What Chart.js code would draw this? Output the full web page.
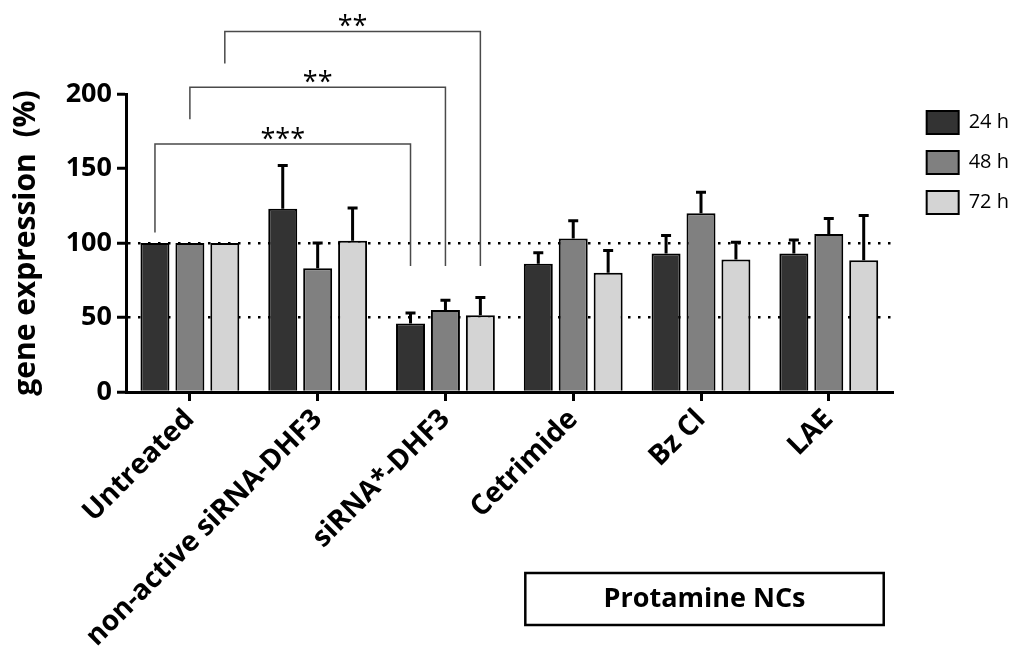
<!DOCTYPE html>
<html>
<head>
<meta charset="utf-8">
<script src="https://cdn.jsdelivr.net/npm/chart.js@4/dist/chart.umd.min.js"></script>
<style>
  html, body { margin: 0; padding: 0; background: #fff; }
  canvas { display: block; }
</style>
</head>
<body>
<canvas id="chart" width="1027" height="650"></canvas>
<script>
// Treatment groups on the x axis
const categories = ['Untreated', 'non-active siRNA-DHF3', 'siRNA*-DHF3', 'Cetrimide', 'Bz Cl', 'LAE'];

// Series: relative gene expression (%) by incubation time
const seriesNames = ['24 h', '48 h', '72 h'];
const h24 = [100, 123, 46, 86, 93, 93];
const h48 = [100, 83, 55, 103, 120, 106];
const h72 = [100, 101.5, 51.5, 80, 89, 88.5];

// Upper error bars (SD) for each series
const err24 = [0, 29, 7, 7.5, 12, 9];
const err48 = [0, 17, 6.5, 12, 14, 10.5];
const err72 = [0, 22, 12, 15, 11.5, 30];

// y-axis ticks and the dotted reference levels
const yTicks = [0, 50, 100, 150, 200];
const refLevels = [50, 100];

// Significance comparisons: [category, series] pairs, bracket top, feet, label
const sigLabels = ['***', '**', '**'];
const sigFrom = [[0, 0], [0, 1], [0, 2]];
const sigTo = [[2, 0], [2, 1], [2, 2]];
const sigTop = [166.5, 204.5, 242];
const sigFootLeft = [107, 183, 220.5];
const sigFootRight = [84.5, 84.5, 84.5];

const groupLabel = 'Protamine NCs';

const FONT = "'Open Sans', sans-serif";
Chart.defaults.font.family = FONT;
Chart.defaults.color = '#000';

const fills = ['#333333', '#808080', '#d4d4d4'];
const values = [h24, h48, h72];
const errors = [err24, err48, err72];

const extras = {
  id: 'extras',
  afterDatasetsDraw(chart) {
    const { ctx } = chart;
    const y = chart.scales.y;
    ctx.save();
    ctx.strokeStyle = '#000';
    ctx.lineWidth = 3;
    values.forEach((vals, di) => {
      const meta = chart.getDatasetMeta(di);
      errors[di].forEach((e, i) => {
        if (!e) return;
        const bx = meta.data[i].x;
        const y0 = y.getPixelForValue(vals[i]);
        const y1 = y.getPixelForValue(vals[i] + e);
        ctx.beginPath();
        ctx.moveTo(bx, y0);
        ctx.lineTo(bx, y1);
        ctx.moveTo(bx - 5, y1);
        ctx.lineTo(bx + 5, y1);
        ctx.stroke();
      });
    });
    ctx.restore();
  },
  afterDraw(chart) {
    const { ctx } = chart;
    const x = chart.scales.x;
    const y = chart.scales.y;
    ctx.save();
    // significance brackets
    ctx.strokeStyle = '#4a4a4a';
    ctx.lineWidth = 1.5;
    ctx.fillStyle = '#000';
    ctx.font = "27px " + FONT;
    ctx.textAlign = 'center';
    ctx.textBaseline = 'alphabetic';
    sigLabels.forEach((lab, k) => {
      const xa = chart.getDatasetMeta(sigFrom[k][1]).data[sigFrom[k][0]].x;
      const xb = chart.getDatasetMeta(sigTo[k][1]).data[sigTo[k][0]].x;
      const yt = y.getPixelForValue(sigTop[k]);
      ctx.beginPath();
      ctx.moveTo(xa, y.getPixelForValue(sigFootLeft[k]));
      ctx.lineTo(xa, yt);
      ctx.lineTo(xb, yt);
      ctx.lineTo(xb, y.getPixelForValue(sigFootRight[k]));
      ctx.stroke();
      ctx.fillText(lab, (xa + xb) / 2, yt + 4);
    });
    // group box under the last three categories
    const cw = x.getPixelForValue(1) - x.getPixelForValue(0);
    const left = x.getPixelForValue(3) - 0.375 * cw;
    const right = x.getPixelForValue(5) + 0.43 * cw;
    const top = 573, bottom = 625;
    ctx.strokeStyle = '#000';
    ctx.lineWidth = 2.5;
    ctx.strokeRect(left, top, right - left, bottom - top);
    ctx.font = "bold 27px " + FONT;
    ctx.textBaseline = 'middle';
    ctx.fillText(groupLabel, (left + right) / 2, (top + bottom) / 2);
    ctx.restore();
  }
};

new Chart(document.getElementById('chart'), {
  type: 'bar',
  data: {
    labels: categories,
    datasets: seriesNames.map((name, i) => ({
      label: name,
      data: values[i],
      backgroundColor: fills[i],
      borderColor: '#000',
      borderWidth: 2,
      categoryPercentage: 0.82,
      barPercentage: 0.83
    }))
  },
  options: {
    responsive: false,
    animation: false,
    events: [],
    layout: { padding: { top: 94, right: 8, bottom: 0, left: 0 } },
    plugins: {
      tooltip: { enabled: false },
      legend: {
        position: 'right',
        align: 'start',
        labels: {
          boxWidth: 32,
          boxHeight: 23,
          padding: 17,
          color: '#000',
          font: { size: 20 }
        }
      }
    },
    scales: {
      x: {
        grid: {
          offset: false,
          drawOnChartArea: false,
          drawTicks: true,
          tickLength: 9,
          lineWidth: 3,
          color: '#000'
        },
        border: { display: true, width: 3, color: '#000' },
        ticks: {
          minRotation: 45,
          maxRotation: 45,
          autoSkip: false,
          padding: 2,
          color: '#000',
          font: { size: 28, weight: 'bold' }
        },
        afterFit(s) { s.height = 258; }
      },
      y: {
        min: 0,
        max: 200,
        afterBuildTicks(s) { s.ticks = yTicks.map(v => ({ value: v })); },
        grid: {
          color: ctx => refLevels.includes(ctx.tick && ctx.tick.value) ? '#000' : 'rgba(0,0,0,0)',
          lineWidth: 2.5,
          tickColor: '#000',
          tickWidth: 3,
          tickLength: 9,
          tickBorderDash: []
        },
        border: { display: true, width: 3, color: '#000', dash: [2.5, 7.5] },
        ticks: {
          padding: 5,
          color: '#000',
          font: { size: 27, weight: 'bold' }
        },
        title: {
          display: true,
          text: 'gene expression  (%)',
          color: '#000',
          font: { size: 30, weight: 'bold' },
          padding: { top: 8, bottom: 0 }
        },
        afterFit(s) { s.width = 126; }
      },
      gap: {
        position: 'right',
        display: true,
        grid: { display: false },
        border: { display: false },
        ticks: { display: false },
        afterFit(s) { s.width = 17; }
      }
    }
  },
  plugins: [extras]
});
</script>
</body>
</html>
